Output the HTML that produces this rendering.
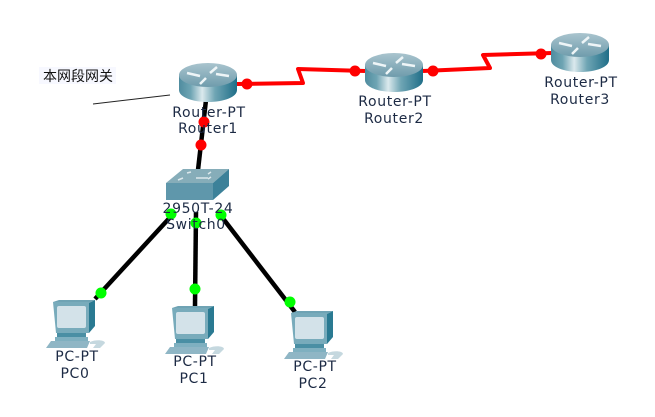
<!DOCTYPE html>
<html><head><meta charset="utf-8">
<style>
html,body{margin:0;padding:0;background:#fff;}
svg{display:block;}
text{font-family:"DejaVu Sans","Liberation Sans",sans-serif;font-size:14px;letter-spacing:.65px;fill:#1c2a44;text-anchor:middle;}
</style></head>
<body>
<svg width="655" height="417" viewBox="0 0 655 417" xmlns="http://www.w3.org/2000/svg">
<defs>
<linearGradient id="rb" x1="0" x2="1" y1="0" y2="0">
<stop offset="0" stop-color="#4f8c9f"/><stop offset=".2" stop-color="#6ea4b3"/><stop offset=".4" stop-color="#dbe9ed"/><stop offset=".62" stop-color="#6fa5b4"/><stop offset="1" stop-color="#1f6e88"/>
</linearGradient>
<linearGradient id="rt" x1="0" x2="0" y1="0" y2="1">
<stop offset="0" stop-color="#a9c4ce"/><stop offset="1" stop-color="#6f9cac"/>
</linearGradient>
<g id="router">
<path d="M0 12V27C0 34 13 39 29 39S58 34 58 27V12Z" fill="url(#rb)"/>
<ellipse cx="29" cy="12" rx="29" ry="12" fill="url(#rt)"/>
<path d="M8 10L21 13M38 4L31 10M50 13L37 11M21 21L27 15" stroke="#eef5f7" stroke-width="2.5" fill="none"/>
</g>
<g id="pc">
<path d="M7 2L13 0H49L43 3Z" fill="#6fa3b4"/>
<path d="M43 3L49 0V26L43 33Z" fill="#2a7a92"/>
<path d="M7 2H43V33H10Z" fill="#78abbb"/>
<rect x="11" y="6" width="29" height="22" rx="2" fill="#d3e2e9"/>
<path d="M11 33H40V37H11Z" fill="#4a8fa4"/>
<path d="M9 37H42V41H9Z" fill="#7fb0c0"/>
<path d="M0 48L5 41H44L41 48Z" fill="#8fb6c5"/>
<path d="M44 42C50 39 59 40 59 43L54 48H47L50 44H44Z" fill="#c5d8df"/>
</g>
</defs>

<rect x="39" y="67" width="77" height="17" fill="#f7f8ff"/>
<text x="78" y="81" style="font-family:'Liberation Sans','Noto Sans CJK SC',sans-serif;font-size:14px;letter-spacing:0;fill:#111">本网段网关</text>
<line x1="93" y1="104" x2="170" y2="95" stroke="#222" stroke-width="1"/>

<g fill="none" stroke="#f00" stroke-width="4" stroke-linejoin="round">
<polyline points="237,84 303,83 298,69 365,71"/>
<polyline points="423,71 490,68 483,55 552,53"/>
</g>
<g fill="none" stroke="#000" stroke-width="4.5">
<line x1="206" y1="100" x2="198" y2="170"/>
<line x1="175" y1="212" x2="95" y2="299"/>
<line x1="196" y1="212" x2="195" y2="306"/>
<line x1="218" y1="212" x2="295" y2="312"/>
</g>

<use href="#router" x="179" y="63"/>
<use href="#router" x="365" y="53"/>
<use href="#router" x="551" y="33"/>

<path d="M166 183L183 169H229L213 183Z" fill="#86adb9"/>
<path d="M166 183H213V200H166Z" fill="#5f97ab"/>
<path d="M213 183L229 169V186L213 200Z" fill="#3c8199"/>
<path d="M178 180l5-2M187 173l4-1M211 172l-3 2M211 177l-3 2M196 178h12" stroke="#dce8ec" stroke-width="1.5" fill="none"/>

<use href="#pc" x="46" y="300"/>
<use href="#pc" x="165" y="306"/>
<use href="#pc" x="284" y="311"/>

<g fill="#f00">
<circle cx="247" cy="84" r="5.5"/><circle cx="355" cy="71" r="5.5"/><circle cx="433" cy="71" r="5.5"/><circle cx="541" cy="54" r="5.5"/>
<circle cx="204" cy="122" r="5.5"/><circle cx="201" cy="145" r="5.5"/>
</g>
<g fill="#0f0">
<circle cx="171" cy="214" r="5.5"/><circle cx="196" cy="223" r="5.5"/><circle cx="221" cy="215" r="5.5"/>
<circle cx="101" cy="293" r="5.5"/><circle cx="195" cy="289" r="5.5"/><circle cx="290" cy="302" r="5.5"/>
</g>

<text x="209" y="117">Router-PT</text><text x="208" y="133">Router1</text>
<text x="395" y="106">Router-PT</text><text x="394" y="123">Router2</text>
<text x="581" y="87">Router-PT</text><text x="580" y="104">Router3</text>
<text x="198" y="213">2950T-24</text><text x="196" y="229">Switch0</text>
<text x="77" y="361">PC-PT</text><text x="75" y="378">PC0</text>
<text x="195" y="366">PC-PT</text><text x="194" y="383">PC1</text>
<text x="315" y="371">PC-PT</text><text x="313" y="388">PC2</text>
</svg>
</body></html>
